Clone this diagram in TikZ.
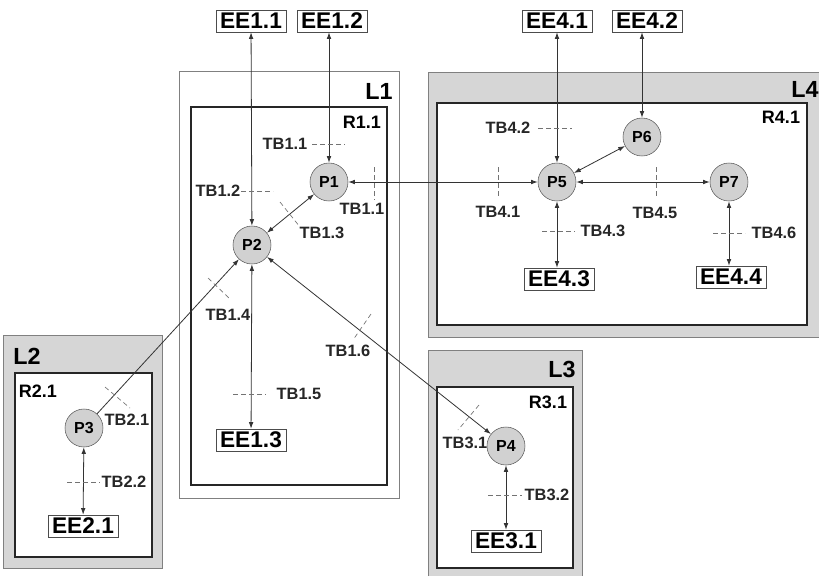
\documentclass[tikz,border=0pt]{standalone}
\usepackage{fontspec}
\setmainfont{Liberation Sans}
\usetikzlibrary{arrows.meta}

\begin{document}
\begin{tikzpicture}[x=0.75pt,y=-0.75pt,
    every node/.style={font=\bfseries},
    proc/.style={circle,draw=black!65,fill=black!18,minimum size=28.5pt,inner sep=0pt,
        font=\fontsize{12}{13}\selectfont\bfseries},
    ee/.style={draw=black!70,fill=white,inner xsep=3pt,inner ysep=1pt,minimum height=16.5pt,
        font=\fontsize{17}{18}\selectfont\bfseries},
    tb/.style={font=\fontsize{12.3}{13}\selectfont\bfseries,text=black!85,inner sep=0pt},
    lab/.style={font=\fontsize{17.5}{18}\selectfont\bfseries,inner sep=0pt},
    rlab/.style={font=\fontsize{13.5}{14}\selectfont\bfseries,inner sep=0pt},
    link/.style={line width=0.6pt,black!80,{Latex[length=5pt,width=3.5pt]}-{Latex[length=5pt,width=3.5pt]}},
    bound/.style={draw=black!55,dash pattern=on 3.5pt off 2.5pt,line width=0.5pt},
    layer/.style={fill=black!16},
    edge/.style={draw=black!50,line width=0.6pt},
    region/.style={draw=black!85,line width=1.4pt,fill=white}
]

    \useasboundingbox (0,0) rectangle (819,576);

    % Layers
    \filldraw[fill=white,edge] (179,71) rectangle (399,498);
    \fill[layer] (428,72) rectangle (819,337);
    \draw[edge] (819,72) -- (428,72) -- (428,337) -- (819,337);
    \filldraw[layer,edge] (3,335) rectangle (162,568);
    \fill[layer] (428,350) rectangle (582,576);
    \draw[edge] (428,576) -- (428,350) -- (582,350) -- (582,576);

    % Regions
    \draw[region] (191,107) rectangle (387,485);
    \draw[region] (437,103) rectangle (807,325);
    \draw[region] (15,373) rectangle (152,557);
    \draw[region] (437,387) rectangle (573,568);

    % Layer and region names
    \node[lab] (l1) at (379,91) {L1};
    \node[lab] (l2) at (27,356) {L2};
    \node[lab] (l3) at (562,369) {L3};
    \node[lab] (l4) at (805,89) {L4};
    \node[rlab] (r11) at (362,122) {R1.1};
    \node[rlab] (r21) at (38,391) {R2.1};
    \node[rlab] (r31) at (548,402) {R3.1};
    \node[rlab] (r41) at (781,117) {R4.1};

    % Processes
    \node[proc] (p1) at (329,182) {P1};
    \node[proc] (p2) at (252,245) {P2};
    \node[proc] (p3) at (84,428) {P3};
    \node[proc] (p4) at (506,446) {P4};
    \node[proc] (p5) at (557,182) {P5};
    \node[proc] (p6) at (642,137) {P6};
    \node[proc] (p7) at (729,182) {P7};

    % External entities
    \node[ee] (ee11) at (251,21) {EE1.1};
    \node[ee] (ee12) at (332,21) {EE1.2};
    \node[ee] (ee13) at (251,440) {EE1.3};
    \node[ee] (ee21) at (83,526) {EE2.1};
    \node[ee] (ee31) at (506,541) {EE3.1};
    \node[ee] (ee41) at (557,21) {EE4.1};
    \node[ee] (ee42) at (647,21) {EE4.2};
    \node[ee] (ee43) at (559,279) {EE4.3};
    \node[ee] (ee44) at (731,277) {EE4.4};

    % Flows
    \draw[link] (ee11) -- (p2);
    \draw[link] (p1 |- ee12.south) -- (p1);
    \draw[link] (p1) -- (p2);
    \draw[link] (p1) -- (p5);
    \draw[link] (p2) -- (ee13);
    \draw[link] (p2) -- (p4);
    \draw[line width=0.6pt,black!80,-{Latex[length=5pt,width=3.5pt]}] (p3) -- (p2);
    \draw[link] (p3) -- (ee21);
    \draw[link] (p4) -- (ee31);
    \draw[link] (ee41) -- (p5);
    \draw[link] (p6 |- ee42.south) -- (p6);
    \draw[link] (p5) -- (p6);
    \draw[link] (p5) -- (p7);
    \draw[link] (p5) -- (p5 |- ee43.north);
    \draw[link] (p7) -- (p7 |- ee44.north);

    % Trust boundaries
    \draw[bound] (312,144) -- (345,144);
    \draw[bound] (374,167) -- (374,200);
    \draw[bound] (241,191) -- (273,191);
    \draw[bound] (280,202) -- (300,227);
    \draw[bound] (208,278) -- (230,299);
    \draw[bound] (233,394) -- (266,394);
    \draw[bound] (371,314) -- (353,340);
    \draw[bound] (105,387) -- (130,408);
    \draw[bound] (67,482) -- (100,482);
    \draw[bound] (479,405) -- (458,430);
    \draw[bound] (488,495) -- (522,495);
    \draw[bound] (498,167) -- (498,198);
    \draw[bound] (538,128) -- (572,128);
    \draw[bound] (542,231) -- (575,231);
    \draw[bound] (656,167) -- (656,198);
    \draw[bound] (713,233) -- (745,233);

    \node[tb] (tb11a) at (285,144) {TB1.1};
    \node[tb] (tb11b) at (362,209) {TB1.1};
    \node[tb] (tb12) at (218,191) {TB1.2};
    \node[tb] (tb13) at (322,233) {TB1.3};
    \node[tb] (tb14) at (228,315) {TB1.4};
    \node[tb] (tb15) at (299,394) {TB1.5};
    \node[tb] (tb16) at (348,351) {TB1.6};
    \node[tb] (tb21) at (127,420) {TB2.1};
    \node[tb] (tb22) at (124,482) {TB2.2};
    \node[tb] (tb31) at (465,443) {TB3.1};
    \node[tb] (tb32) at (547,495) {TB3.2};
    \node[tb] (tb41) at (498,212) {TB4.1};
    \node[tb] (tb42) at (508,128) {TB4.2};
    \node[tb] (tb43) at (603,231) {TB4.3};
    \node[tb] (tb45) at (655,213) {TB4.5};
    \node[tb] (tb46) at (774,233) {TB4.6};

\end{tikzpicture}
\end{document}
